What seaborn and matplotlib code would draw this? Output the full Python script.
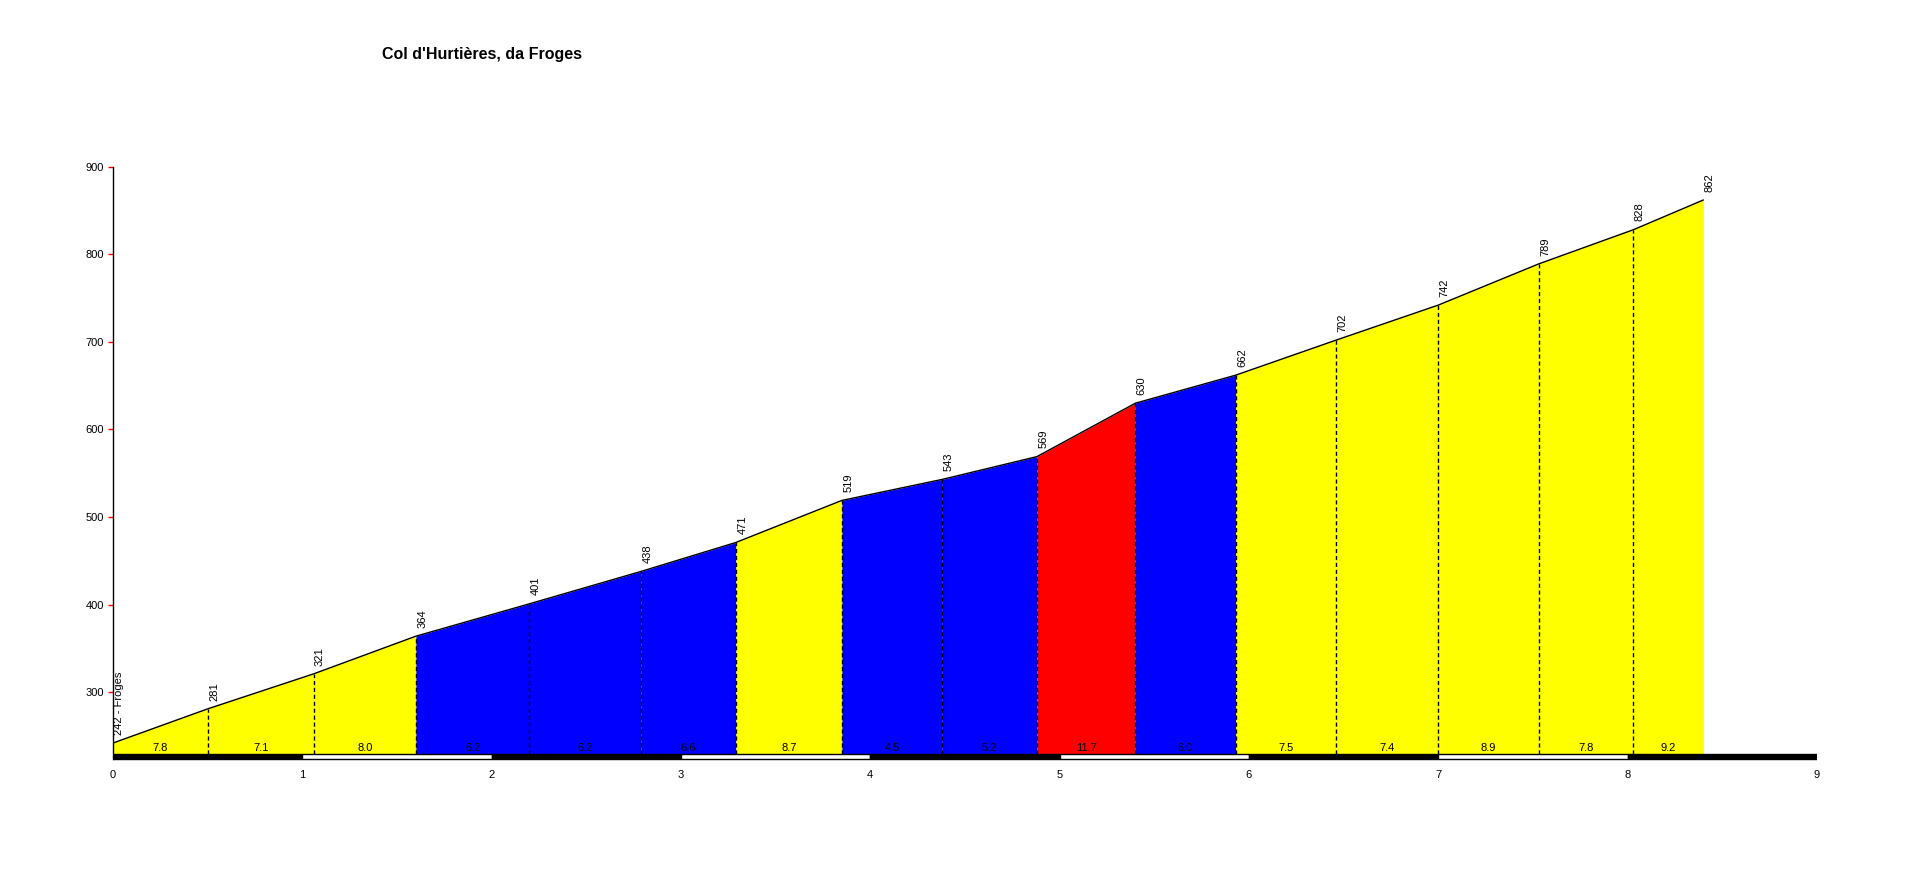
import matplotlib
matplotlib.use("Agg")
import matplotlib.pyplot as plt
import numpy as np
import pandas as pd
import seaborn as sns

# ---- data ----
dist_km = [0, 0.5, 1.06, 1.6, 2.2, 2.79, 3.29, 3.85, 4.38, 4.88, 5.4, 5.93,
           6.46, 7.0, 7.53, 8.03, 8.4]
elev_m = [242, 281, 321, 364, 401, 438, 471, 519, 543, 569, 630, 662,
          702, 742, 789, 828, 862]
grade_pct = [7.8, 7.1, 8.0, 6.2, 6.2, 6.6, 8.7, 4.5, 5.2, 11.7, 6.0,
             7.5, 7.4, 8.9, 7.8, 9.2]
start_label = "242 - Froges"
title_text = "Col d'Hurtières, da Froges"
y_ticks = [300, 400, 500, 600, 700, 800, 900]
x_ticks = [0, 1, 2, 3, 4, 5, 6, 7, 8, 9]

sns.set_style("white")
plt.rcParams['font.family'] = ['Liberation Sans', 'DejaVu Sans']
plt.rcParams['text.color'] = 'black'
plt.rcParams['xtick.color'] = 'black'
plt.rcParams['ytick.color'] = 'black'

fig = plt.figure(figsize=(19.08, 8.81), dpi=100)
ax = fig.add_axes([0.0592, 0.1367, 0.8931, 0.6741])

base = 230
strip_bottom = 224.3

def grade_color(g):
    if g < 7:
        return '#0000FF'
    if g < 10:
        return '#FFFF00'
    return '#FF0000'

# filled segments
for i, g in enumerate(grade_pct):
    xs = [dist_km[i], dist_km[i + 1]]
    ys = [elev_m[i], elev_m[i + 1]]
    ax.fill_between(xs, ys, base, color=grade_color(g), linewidth=0, zorder=1)
    ax.text((xs[0] + xs[1]) / 2, base + 1.0, f"{g:.1f}", ha='center', va='bottom',
            fontsize=8, color='black', zorder=4)

# profile line
df = pd.DataFrame({'km': dist_km, 'm': elev_m})
sns.lineplot(data=df, x='km', y='m', color='black', linewidth=1.0, ax=ax, zorder=3)

# dashed separators
for d, e in zip(dist_km[1:-1], elev_m[1:-1]):
    ax.plot([d, d], [base, e], color='black', linewidth=1.0, linestyle=(0, (3, 2)), zorder=2)

# elevation labels
for i, (d, e) in enumerate(zip(dist_km, elev_m)):
    lab = start_label if i == 0 else str(e)
    ax.annotate(lab, (d, e), xytext=(1, 6), textcoords='offset points', rotation=90,
                ha='left', va='bottom', fontsize=8, color='black', zorder=4)

# km strip
for k in range(9):
    ax.bar(k + 0.5, base - strip_bottom, bottom=strip_bottom, width=1.0,
           color='black' if k % 2 == 0 else 'white', edgecolor='black',
           linewidth=1.0, zorder=2)

ax.set_xlim(0, 9)
ax.set_ylim(222, 900)
ax.set_xticks(x_ticks)
ax.set_xticklabels([str(v) for v in x_ticks], fontsize=8, color='black')
ax.set_yticks(y_ticks)
ax.set_yticklabels([str(v) for v in y_ticks], fontsize=8, color='black')
ax.tick_params(axis='y', color='red', labelcolor='black', length=3.5, width=1,
               direction='out', pad=3, left=True)
ax.tick_params(axis='x', length=0, pad=7, labelcolor='black')
ax.set_xlabel('')
ax.set_ylabel('')
for s in ['top', 'right', 'bottom']:
    ax.spines[s].set_visible(False)
ax.spines['left'].set_color('black')
ax.spines['left'].set_linewidth(1.0)
ax.spines['left'].set_bounds(strip_bottom, 900)

fig.text(482 / 1908, 1 - 55 / 881, title_text, ha='center', va='center',
         fontsize=11.5, fontweight='bold', color='black')

fig.savefig('out.png', dpi=100, facecolor='white')
